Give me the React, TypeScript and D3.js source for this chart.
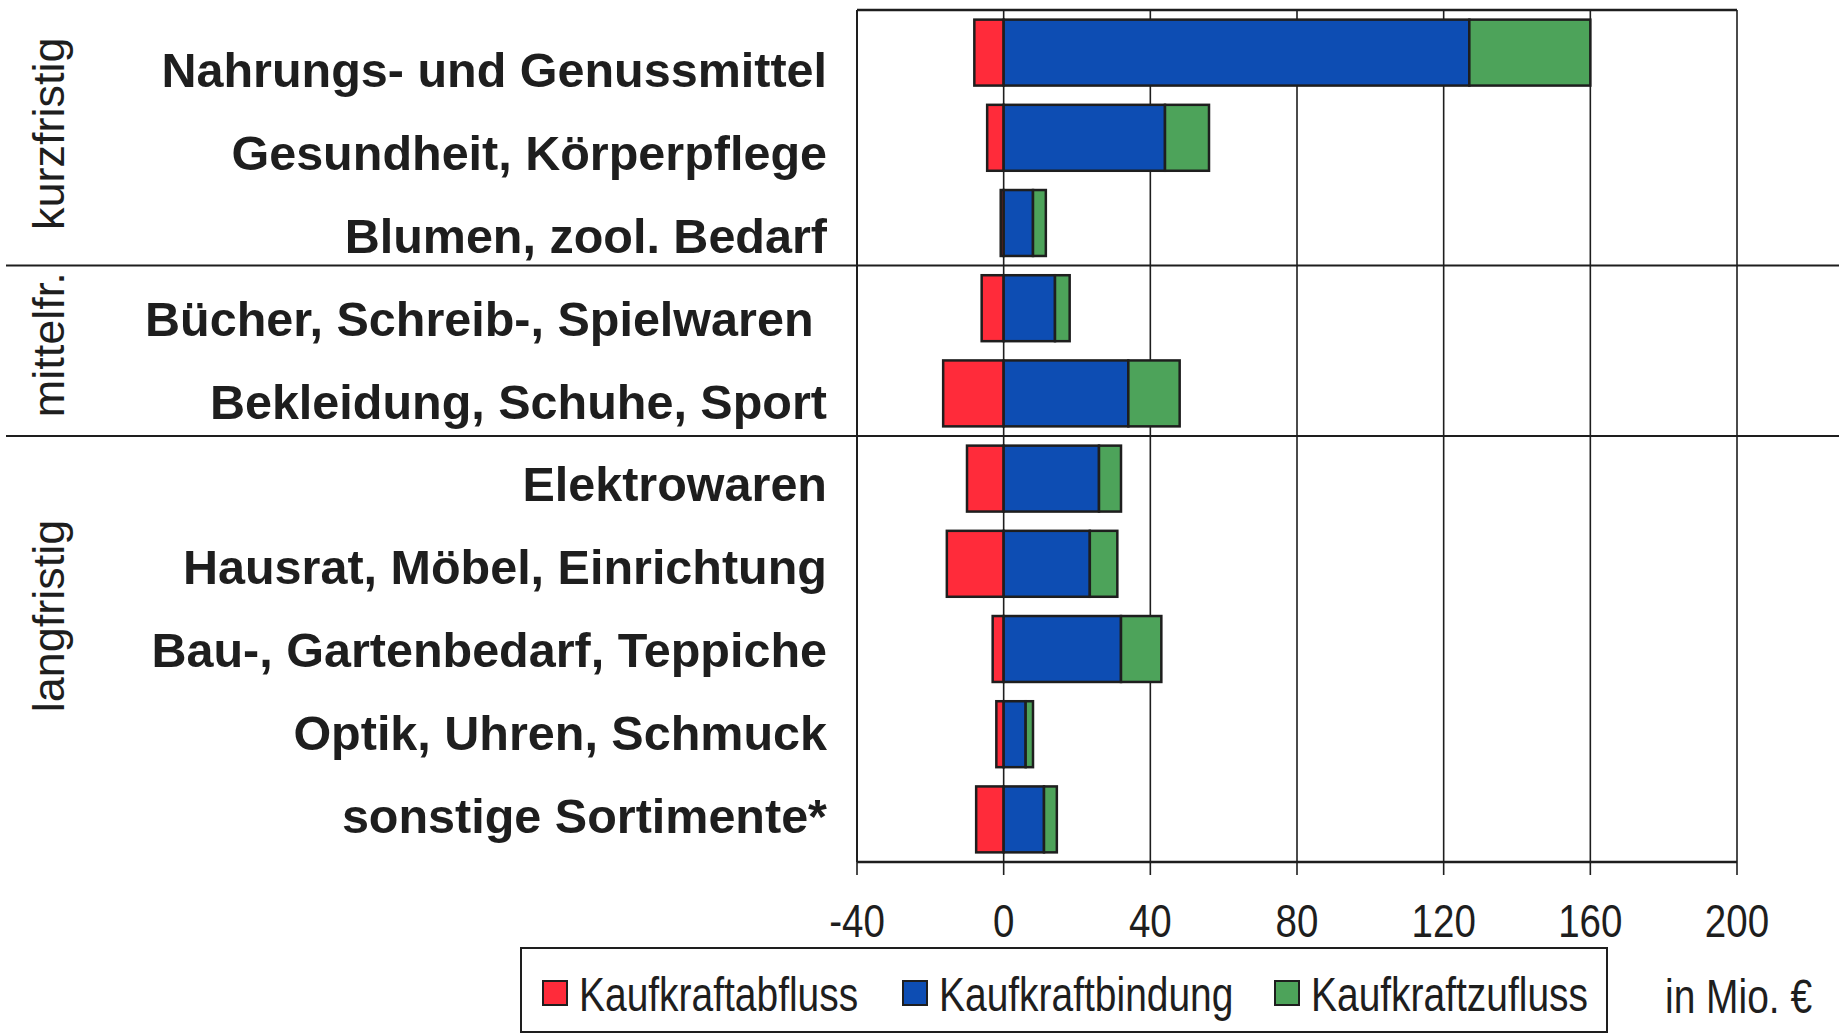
import * as d3 from 'd3';

// categories, top to bottom
const categories = [
    'Nahrungs- und Genussmittel',
    'Gesundheit, Körperpflege',
    'Blumen, zool. Bedarf',
    'Bücher, Schreib-, Spielwaren\u00A0',
    'Bekleidung, Schuhe, Sport',
    'Elektrowaren',
    'Hausrat, Möbel, Einrichtung',
    'Bau-, Gartenbedarf, Teppiche',
    'Optik, Uhren, Schmuck',
    'sonstige Sortimente*',
];

// values in Mio. €
const abfluss = [-8, -4.5, -0.8, -6, -16.5, -10, -15.5, -3, -2, -7.5];
const bindung = [127, 44, 8, 14, 34, 26, 23.5, 32, 6, 11];
const zufluss = [33, 12, 3.5, 4, 14, 6, 7.5, 11, 2, 3.5];

const groupLabels = ['kurzfristig', 'mittelfr.', 'langfristig'];
const groupSizes = [3, 2, 5];

const xTicks = [-40, 0, 40, 80, 120, 160, 200];
const seriesNames = ['Kaufkraftabfluss', 'Kaufkraftbindung', 'Kaufkraftzufluss'];
const seriesColors = ['#ff2b3a', '#0d4db3', '#4da35a'];

const W = 1839;
const H = 1036;
const ink = '#1e1e1e';
const sans = "'Liberation Sans', Arial, sans-serif";
// the scan uses a condensed face for axis + legend, fake it with a squeeze
const squeeze = 0.82;

const App = () => {
    const plotTop = 10;
    const plotBottom = 862;
    const x = d3.scaleLinear().domain([-40, 200]).range([857, 1737]);
    const y = d3.scaleBand<string>()
        .domain(categories)
        .range([plotTop, plotBottom])
        .paddingInner(0.226)
        .paddingOuter(0.113);
    const step = y.step();
    const rowTop = (i: number) => plotTop + i * step;
    // label rows sit a bit lower than the bars in the scan
    const labelY = d3.scalePoint<string>().domain(categories).range([70, 816]);

    // group boundaries
    const bounds = Array.from(d3.cumsum(groupSizes));
    const groupNudge = [-4, -6, -33];

    const bars = categories.map((c, i) => {
        const y0 = y(c) || 0;
        const h = y.bandwidth();
        const segs = [
            [abfluss[i], 0],
            [0, bindung[i]],
            [bindung[i], bindung[i] + zufluss[i]],
        ];
        return (
            <g key={c}>
                {segs.map(([a, b], k) => (
                    <rect
                        key={k}
                        x={x(Math.min(a, b))}
                        y={y0}
                        width={Math.abs(x(b) - x(a))}
                        height={h}
                        fill={seriesColors[k]}
                        stroke={ink}
                        strokeWidth={2.5}
                    />
                ))}
            </g>
        );
    });

    const narrowText = (key: string | number, tx: number, ty: number, anchor: string, size: number, content: string) => (
        <text key={key} transform={`translate(${tx}, ${ty}) scale(${squeeze}, 1)`} textAnchor={anchor}
            style={{ font: `${size}px ${sans}`, fill: ink }}>{content}</text>
    );

    return (
        <svg width={W} height={H} style={{ position: 'absolute', left: 0, top: 0, background: '#fff' }}>
            {/* gridlines + ticks */}
            {xTicks.map(t => (
                <line key={t} x1={x(t)} x2={x(t)} y1={plotTop} y2={plotBottom + 13} stroke={ink} strokeWidth={1.6} />
            ))}
            {bars}
            {/* group separators */}
            {bounds.slice(0, -1).map(b => (
                <line key={b} x1={6} x2={W} y1={rowTop(b)} y2={rowTop(b)} stroke={ink} strokeWidth={2} />
            ))}
            {/* plot frame */}
            <line x1={x(-40)} x2={x(200)} y1={plotTop} y2={plotTop} stroke={ink} strokeWidth={2.5} />
            <line x1={x(-40)} x2={x(200)} y1={plotBottom} y2={plotBottom} stroke={ink} strokeWidth={2.5} />
            <line x1={x(-40)} x2={x(-40)} y1={plotTop} y2={plotBottom} stroke={ink} strokeWidth={2} />

            {/* x tick labels */}
            {xTicks.map(t => narrowText(t, x(t), 937, 'middle', 47, String(t)))}

            {/* category labels */}
            {categories.map(c => (
                <text key={c} x={827} y={(labelY(c) || 0) + 17} textAnchor="end"
                    style={{ font: `bold 48.5px ${sans}`, fill: ink }}>{c}</text>
            ))}

            {/* group labels */}
            {groupLabels.map((g, i) => {
                const start = i === 0 ? 0 : bounds[i - 1];
                const cy = rowTop(start) + (groupSizes[i] * step) / 2 + groupNudge[i];
                return (
                    <text key={g} transform={`translate(64, ${cy}) rotate(-90)`} textAnchor="middle"
                        style={{ font: `45px ${sans}`, fill: ink }}>{g}</text>
                );
            })}

            {/* legend */}
            <rect x={521} y={948} width={1086} height={84} fill="none" stroke={ink} strokeWidth={2} />
            {seriesNames.map((s, k) => {
                const lx = [543, 903, 1275][k];
                return (
                    <g key={s} transform={`translate(${lx}, 0)`}>
                        <rect x={0} y={981} width={24} height={24} fill={seriesColors[k]} stroke={ink} strokeWidth={2} />
                        {narrowText(s, 36, 1011, 'start', 47.5, s)}
                    </g>
                );
            })}
            {narrowText('unit', 1665, 1013, 'start', 47.5, 'in Mio. €')}
        </svg>
    );
};

export default App;
